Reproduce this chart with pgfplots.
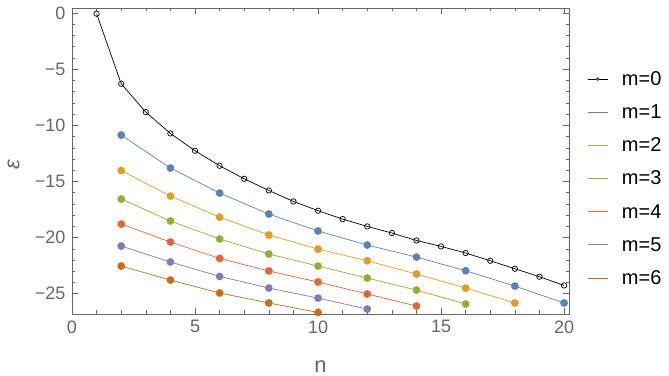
\documentclass[border=0pt]{standalone}
\usepackage{fontspec}
\setmainfont{Liberation Sans}
\usepackage{pgfplots}
\pgfplotsset{compat=1.18}
\definecolor{c1}{rgb}{0.368417,0.506779,0.709798}
\definecolor{c2}{rgb}{0.880722,0.611041,0.142051}
\definecolor{c3}{rgb}{0.560181,0.691569,0.194885}
\definecolor{c4}{rgb}{0.922526,0.385626,0.209179}
\definecolor{c5}{rgb}{0.528488,0.470624,0.701351}
\definecolor{c6}{rgb}{0.772079,0.431554,0.102387}
\definecolor{tk}{rgb}{0.4,0.4,0.4}
\begin{document}
\begin{tikzpicture}
\begin{axis}[name=ax,
  scale only axis, width=497pt, height=306pt,
  xmin=0, xmax=20.2, ymin=-26.8, ymax=0.45,
  xtick={0,5,10,15,20}, minor x tick num=4,
  ytick={-25,-20,-15,-10,-5,0},
  yticklabels={−25,−20,−15,−10,−5,0},
  minor y tick num=4,
  tick align=inside,
  major tick length=6pt, minor tick length=3.5pt,
  every tick/.style={tk, line width=0.6pt},
  axis line style={tk, line width=0.7pt},
  tick label style={font=\fontsize{18}{20}\selectfont, text=tk},
  xticklabel style={yshift=-3pt},
  yticklabel style={xshift=-3pt},
  /pgf/number format/assume math mode=true,
  xlabel={n}, ylabel={\textit{ε}},
  label style={font=\fontsize{22}{24}\selectfont, text=tk},
  xlabel style={at={(rel axis cs:0.5,0)}, anchor=base, yshift=-58pt},
  ylabel style={at={(rel axis cs:0,0.5)}, anchor=center, yshift=58.5pt, xshift=-4pt},
  legend style={draw=none, fill=none, at={(1.036,0.80)}, anchor=north west,
    inner sep=0pt,
    font=\fontsize{20}{22}\selectfont, row sep=13.8pt,
    /tikz/every odd column/.append style={column sep=12pt}},
  legend cell align=left,
]
\addplot[black, line width=0.7pt, mark=o, mark size=2.7pt, mark options={line width=0.7pt},
  legend image code/.code={\draw[black, line width=0.8pt] (0pt,0pt) -- (20pt,0pt); \fill[black!70] (10pt,0pt) circle (1.4pt);}] coordinates {
(1,-0.06) (2,-6.30) (3,-8.82) (4,-10.72) (5,-12.26) (6,-13.60) (7,-14.76) (8,-15.80) (9,-16.78) (10,-17.60)
(11,-18.35) (12,-19.00) (13,-19.59) (14,-20.25) (15,-20.78) (16,-21.37) (17,-22.06) (18,-22.77) (19,-23.48) (20,-24.26)};
\addlegendentry{m=0}
\addplot[c1, line width=0.7pt, mark=*, mark size=3.5pt, mark options={draw=none},
  legend image code/.code={\draw[c1, line width=0.9pt] (0pt,0pt) -- (20pt,0pt);}] coordinates {
(2,-10.86) (4,-13.80) (6,-16.03) (8,-17.90) (10,-19.41) (12,-20.66) (14,-21.73) (16,-22.95) (18,-24.31) (20,-25.82)};
\addlegendentry{m=1}
\addplot[c2, line width=0.7pt, mark=*, mark size=3.5pt, mark options={draw=none},
  legend image code/.code={\draw[c2, line width=0.9pt] (0pt,0pt) -- (20pt,0pt);}] coordinates {
(2,-14.02) (4,-16.30) (6,-18.17) (8,-19.77) (10,-21.02) (12,-22.06) (14,-23.24) (16,-24.49) (18,-25.82)};
\addlegendentry{m=2}
\addplot[c3, line width=0.7pt, mark=*, mark size=3.5pt, mark options={draw=none},
  legend image code/.code={\draw[c3, line width=0.9pt] (0pt,0pt) -- (20pt,0pt);}] coordinates {
(2,-16.56) (4,-18.52) (6,-20.12) (8,-21.46) (10,-22.53) (12,-23.60) (14,-24.67) (16,-25.91)};
\addlegendentry{m=3}
\addplot[c4, line width=0.7pt, mark=*, mark size=3.5pt, mark options={draw=none},
  legend image code/.code={\draw[c4, line width=0.9pt] (0pt,0pt) -- (20pt,0pt);}] coordinates {
(2,-18.79) (4,-20.39) (6,-21.85) (8,-22.97) (10,-23.95) (12,-25.02) (14,-26.09)};
\addlegendentry{m=4}
\addplot[c5, line width=0.7pt, mark=*, mark size=3.5pt, mark options={draw=none},
  legend image code/.code={\draw[c5, line width=0.9pt] (0pt,0pt) -- (20pt,0pt);}] coordinates {
(2,-20.75) (4,-22.17) (6,-23.45) (8,-24.49) (10,-25.38) (12,-26.36)};
\addlegendentry{m=5}
\addplot[c6, line width=0.7pt, mark=*, mark size=3.5pt, mark options={draw=none},
  legend image code/.code={\draw[c6, line width=0.9pt] (0pt,0pt) -- (20pt,0pt);}] coordinates {
(2,-22.53) (4,-23.78) (6,-24.93) (8,-25.82) (10,-26.66)};
\addlegendentry{m=6}
\end{axis}
\path ([shift={(-72pt,-61pt)}]ax.south west) rectangle ([shift={(100pt,8pt)}]ax.north east);
\end{tikzpicture}
\end{document}
